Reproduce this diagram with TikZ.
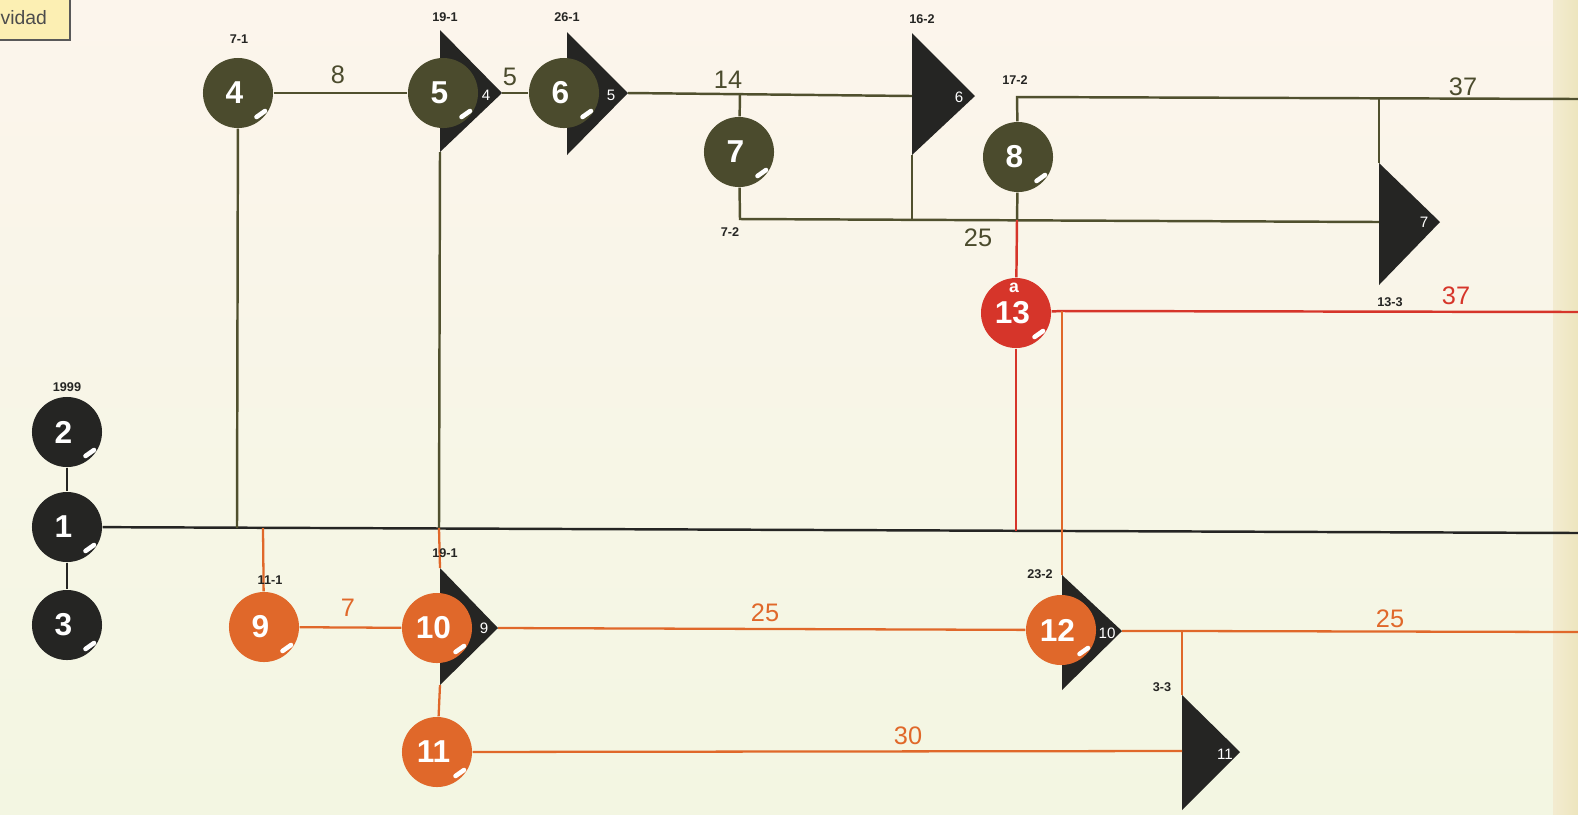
\documentclass[tikz,border=0pt]{standalone}
\usepackage{fontspec}
\setmainfont{Liberation Sans}
\usepackage{tikz}

\definecolor{paper}{HTML}{FCF5EC}
\definecolor{papergreen}{HTML}{F3F6E2}
\definecolor{paperedge}{HTML}{EDE5BE}
\definecolor{oliva}{HTML}{4B4B2D}
\definecolor{olivaline}{HTML}{50502E}
\definecolor{oscuro}{HTML}{252523}
\definecolor{rojo}{HTML}{D6352A}
\definecolor{naranja}{HTML}{E0682A}
\definecolor{boxfill}{HTML}{FCEFB3}

\begin{document}
\begin{tikzpicture}[x=0.01cm,y=-0.01cm,
  nodo/.style={circle,inner sep=0pt,minimum size=0.7cm,text=white,
    font=\fontsize{9}{10}\selectfont\bfseries,execute at begin node={\kern-2pt}},
  flag/.style={fill=oscuro},
  flagnum/.style={text=white,inner sep=0pt,font=\fontsize{4.3}{5}\selectfont},
  tag/.style={text=oscuro,inner sep=0pt,font=\fontsize{3.6}{4}\selectfont\bfseries},
  lbl/.style={inner sep=0pt,font=\fontsize{7.2}{8}\selectfont},
  negro/.style={draw=oscuro,line width=0.7pt},
  linea/.style={draw=olivaline,line width=0.7pt},
  rlinea/.style={draw=rojo,line width=0.7pt},
  olinea/.style={draw=naranja,line width=0.65pt},
  marca/.style={white,line width=1.3pt,line cap=round}]

\useasboundingbox (0,0) rectangle (1578,814);
\shade[top color=paper,bottom color=papergreen] (0,0) rectangle (1578,814);
\shade[left color=paperedge!60!paper,right color=paperedge] (1553,0) rectangle (1578,814);

% box at the corner
\draw[draw=black!65,line width=0.6pt,fill=boxfill] (-5,-5) rectangle (70,40);
\node[anchor=west,inner sep=0pt,text=black!70,font=\fontsize{5.5}{6}\selectfont]
  (titulo) at (0,18) {vidad};

% flags
\fill[flag] (440,30) coordinate (f4t) -- (502,93) coordinate (f4p)
            -- (440,152) coordinate (f4b) -- cycle;
\fill[flag] (567,32) coordinate (f5t) -- (628,93) coordinate (f5p)
            -- (567,155) coordinate (f5b) -- cycle;
\fill[flag] (912,33) coordinate (f6t) -- (975,96) coordinate (f6p)
            -- (912,155) coordinate (f6b) -- cycle;
\fill[flag] (1379,163) coordinate (f7t) -- (1440,222) coordinate (f7p)
            -- (1379,285) coordinate (f7b) -- cycle;
\fill[flag] (440,568) coordinate (f9t) -- (498,628) coordinate (f9p)
            -- (440,685) coordinate (f9b) -- cycle;
\fill[flag] (1062,575) coordinate (f10t) -- (1122,631) coordinate (f10p)
            -- (1062,690) coordinate (f10b) -- cycle;
\fill[flag] (1182,695) coordinate (f11t) -- (1240,752) coordinate (f11p)
            -- (1182,810) coordinate (f11b) -- cycle;
\coordinate (f6m) at (912,96);
\coordinate (f7m) at (1379,222);
\coordinate (f11m) at (1182,751);

\node[flagnum] (f4n) at (486,95) {4};
\node[flagnum] (f5n) at (611,95) {5};
\node[flagnum] (f6n) at (959,97) {6};
\node[flagnum] (f7n) at (1424,222) {7};
\node[flagnum] (f9n) at (484,628) {9};
\node[flagnum] (f10n) at (1107,633) {10};
\node[flagnum] (f11n) at (1225,754) {11};

% circles
\node[nodo,fill=oscuro] (n2) at (67,432) {2};
\node[nodo,fill=oscuro] (n1) at (67,527) {1};
\node[nodo,fill=oscuro] (n3) at (67,625) {3};
\node[nodo,fill=oliva] (n4) at (238,93) {4};
\node[nodo,fill=oliva] (n5) at (443,93) {5};
\node[nodo,fill=oliva] (n6) at (564,93) {6};
\node[nodo,fill=oliva] (n7) at (739,152) {7};
\node[nodo,fill=oliva] (n8) at (1018,157) {8};
\node[nodo,fill=rojo] (n13) at (1016,313) {13};
\node[nodo,fill=naranja] (n9) at (264,627) {9};
\node[nodo,fill=naranja] (n10) at (437,628) {10};
\node[nodo,fill=naranja] (n11) at (437,752) {11};
\node[nodo,fill=naranja] (n12) at (1061,630) {12};
\node[text=white,inner sep=0pt,font=\fontsize{5}{6}\selectfont\bfseries]
  (a13) at (1014,288) {a};

\foreach \n in {n1,n2,n3,n4,n5,n6,n7,n8,n9,n10,n11,n12,n13}
  \draw[marca] (\n) ++(18.5,24) -- ++(8.5,-6);

% corners and junctions
\coordinate (emain) at (1578,533);
\coordinate (j4) at (237,528);
\coordinate (j9) at (263,528);
\coordinate (j5) at (439,528);
\coordinate (j13) at (1016,531);
\coordinate (j7) at (740,94);
\coordinate (k7) at (740,219);
\coordinate (k6) at (912,220);
\coordinate (k8) at (1017,220);
\coordinate (m8) at (1017,97);
\coordinate (m7) at (1379,98);
\coordinate (e8) at (1578,99);
\coordinate (c13) at (1062,311);
\coordinate (e13) at (1578,312);
\coordinate (c12) at (1182,631);
\coordinate (e12) at (1578,632);

% connectors
\draw[negro] (n2) -- (n1) -- (n3);
\draw[negro] (n1) -- (emain);

\draw[linea] (n4) -- (n5);
\draw[linea] (n4) -- (j4);
\draw[linea] (f4p) -- (n6);
\draw[linea] (f5p) -- (f6m);
\draw[linea] (j7) -- (n7);
\draw[linea] (n7) -- (k7) -- (f7m);
\draw[linea] (f6b) -- (k6);
\draw[linea] (n8) -- (m8) -- (e8);
\draw[linea] (m7) -- (f7t);
\draw[linea] (n8) -- (k8);
\draw[linea] (f4b) -- (j5);

\draw[rlinea] (k8) -- (n13);
\draw[rlinea] (n13) -- (j13);
\draw[rlinea] (n13) -- (c13) -- (e13);

\draw[olinea] (c13) -- (f10t);
\draw[olinea] (j9) -- (n9);
\draw[olinea] (n9) -- (n10);
\draw[olinea] (j5) -- (f9t);
\draw[olinea] (f9b) -- (n11);
\draw[olinea] (f9p) -- (n12);
\draw[olinea] (n11) -- (f11m);
\draw[olinea] (f10p) -- (c12) -- (e12);
\draw[olinea] (c12) -- (f11t);

% durations
\node[lbl,text=oliva] (d8) at (338,75) {8};
\node[lbl,text=oliva] (d5) at (510,77) {5};
\node[lbl,text=oliva] (d14) at (728,80) {14};
\node[lbl,text=oliva] (d25) at (978,238) {25};
\node[lbl,text=oliva] (d37) at (1463,87) {37};
\node[lbl,text=rojo] (d37r) at (1456,296) {37};
\node[lbl,text=naranja] (d7) at (348,608) {7};
\node[lbl,text=naranja] (d25a) at (765,613) {25};
\node[lbl,text=naranja] (d30) at (908,736) {30};
\node[lbl,text=naranja] (d25b) at (1390,619) {25};

% dates
\node[tag] (t2) at (67,387) {1999};
\node[tag] (t4) at (239,39) {7-1};
\node[tag] (t5) at (445,17) {19-1};
\node[tag] (t6) at (567,17) {26-1};
\node[tag] (tf6) at (922,19) {16-2};
\node[tag] (t8) at (1015,80) {17-2};
\node[tag] (t7) at (730,232) {7-2};
\node[tag] (tf7) at (1390,302) {13-3};
\node[tag] (t9) at (270,580) {11-1};
\node[tag] (t10) at (445,553) {19-1};
\node[tag] (t12) at (1040,574) {23-2};
\node[tag] (tf11) at (1162,687) {3-3};
\end{tikzpicture}
\end{document}
